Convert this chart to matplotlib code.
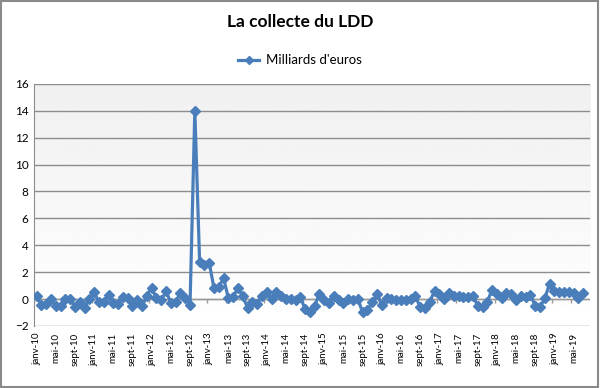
"""La collecte du LDD - monthly net inflows, Excel-style line chart."""

import numpy as np
import matplotlib.pyplot as plt
from matplotlib.patches import Rectangle

plt.rcParams["font.family"] = ["Lato", "DejaVu Sans"]

# Monthly net inflows (billion euros), janv-10 .. juil-19
collecte = [
    0.2, -0.45, -0.4, 0.0, -0.5, -0.55, 0.0, 0.0, -0.6, -0.25, -0.65, 0.0,
    0.5, -0.25, -0.25, 0.3, -0.3, -0.35, 0.15, 0.05, -0.55, -0.1, -0.55, 0.25,
    0.85, 0.05, -0.1, 0.6, -0.3, -0.2, 0.45, 0.1, -0.45, 14.0, 2.75, 2.5,
    2.7, 0.8, 0.9, 1.55, 0.05, 0.15, 0.85, 0.2, -0.65, -0.25, -0.35, 0.2,
    0.55, 0.0, 0.5, 0.2, 0.0, 0.0, -0.05, 0.12, -0.75, -0.95, -0.5, 0.4,
    -0.1, -0.3, 0.25, -0.05, -0.3, 0.0, -0.1, 0.0, -1.0, -0.8, -0.25, 0.4,
    -0.45, 0.05, 0.0, -0.05, -0.05, -0.05, 0.0, 0.2, -0.6, -0.7, -0.2, 0.6,
    0.35, 0.0, 0.45, 0.25, 0.2, 0.12, 0.12, 0.25, -0.5, -0.6, -0.2, 0.7,
    0.35, 0.05, 0.45, 0.35, -0.1, 0.2, 0.12, 0.3, -0.5, -0.6, 0.05, 1.15,
    0.6, 0.55, 0.5, 0.5, 0.45, 0.05, 0.45,
]
mois = ["janv", "févr", "mars", "avr", "mai", "juin",
        "juil", "août", "sept", "oct", "nov", "déc"]
start_year = 10
n_categories = 116
label_step = 4
y_ticks = list(range(-2, 17, 2))

labels = [f"{mois[i % 12]}-{start_year + i // 12}" for i in range(n_categories)]
x = np.arange(len(collecte))

fig = plt.figure(figsize=(6.0, 3.88), dpi=100)
ax = fig.add_axes([0.057, 0.160, 0.927, 0.624])

# soft vertical gradient of the plot area
grad = np.linspace(0.94, 1.0, 256).reshape(-1, 1)
ax.imshow(grad, cmap="gray", vmin=0, vmax=1, aspect="auto",
          extent=(0, 1, 0, 1), transform=ax.transAxes, zorder=0)

ax.set_xlim(-0.5, n_categories - 0.5)
ax.set_ylim(y_ticks[0], y_ticks[-1])
ax.set_yticks(y_ticks)
for yv in y_ticks:
    ax.axhline(yv, color="#8c8c8c", lw=1.0, zorder=1)

# category axis crosses at 0 with tick marks hanging below it
ax.axhline(0, color="#9a9a9a", lw=1.0, zorder=1)
tick_pos = np.arange(0, n_categories, label_step) - 0.5
ax.vlines(tick_pos, -0.3, 0, color="#9a9a9a", lw=1.0, zorder=1)

ax.plot(x, collecte, color="#4a7ebb", lw=2.3, marker="D", ms=5.5,
        markeredgecolor="#4a7ebb", label="Milliards d'euros", zorder=3)

ax.set_xticks(np.arange(0, n_categories, label_step))
ax.set_xticklabels(labels[::label_step], rotation=90, fontsize=7)
ax.tick_params(axis="x", length=0, pad=5)
ax.tick_params(axis="y", length=0, labelsize=8.5, pad=4)

for side in ["top", "right", "bottom"]:
    ax.spines[side].set_visible(False)
ax.spines["left"].set_color("#8c8c8c")

fig.text(0.5, 0.943, "La collecte du LDD", ha="center", va="center",
         fontsize=12.5, fontweight="bold")
fig.legend(loc="center", bbox_to_anchor=(0.5, 0.845), frameon=False,
           fontsize=9.5, handlelength=1.6, handletextpad=0.5, markerscale=0.7)

fig.add_artist(Rectangle((0.002, 0.003), 0.995, 0.994, transform=fig.transFigure,
                         fill=False, edgecolor="#8a8a8a", lw=1.5))

fig.savefig("out.png", dpi=100)
